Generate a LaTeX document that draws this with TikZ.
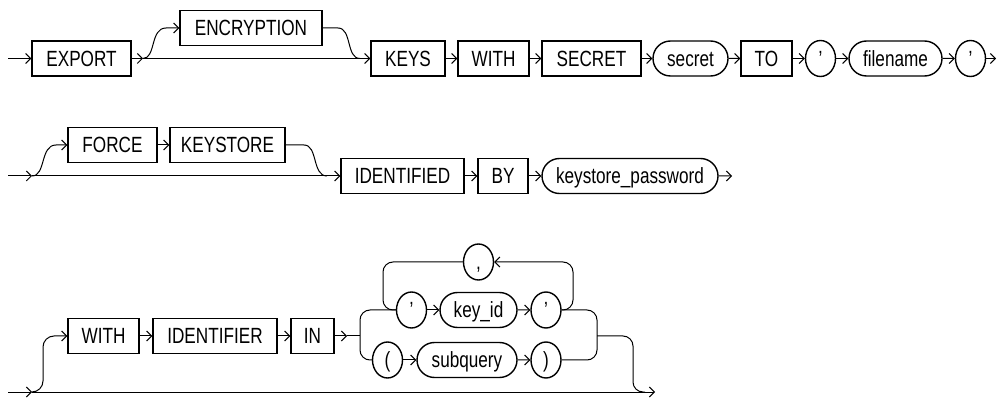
\documentclass[tikz,border=0pt]{standalone}
\usepackage{fontspec}
\setmainfont{Liberation Sans}[FakeStretch=0.78]
\usetikzlibrary{arrows.meta,shapes.misc,shapes.geometric}
\begin{document}
\begin{tikzpicture}[x=1pt,y=-1pt,
 font=\fontsize{22}{25}\selectfont,
 kw/.style={draw,line width=1.4pt,rectangle,minimum height=35pt,inner sep=0pt,text height=19.5pt,text depth=4pt},
 var/.style={kw,rounded rectangle},
 sym/.style={draw,line width=1.4pt,ellipse,minimum width=30pt,minimum height=36pt,inner sep=0pt,text height=19.5pt,text depth=4pt},
 ln/.style={line width=1pt},
 arr/.style={ln,-{Straight Barb[length=5pt,width=10pt]}},
]
\useasboundingbox (0,0) rectangle (997,398);
% row 1
\node[kw,minimum width=99pt] (export) at (81.5,58.5) {EXPORT};
\node[kw,minimum width=142pt] (encr) at (251,28) {ENCRYPTION};
\node[kw,minimum width=74pt] (keys) at (408,58.5) {KEYS};
\node[kw,minimum width=71pt] (with1) at (493.5,58.5) {WITH};
\node[kw,minimum width=99pt] (secretkw) at (591.5,58.5) {SECRET};
\node[var,minimum width=75pt] (secret) at (690.5,58.5) {secret};
\node[kw,minimum width=51pt] (to) at (766.5,58.5) {TO};
\node[sym] (qa) at (820.5,58.5) {’};
\node[var,minimum width=93pt] (fname) at (895.5,58.5) {filename};
\node[sym] (qb) at (970.5,58.5) {’};
\coordinate (s1) at (8,58.5);
\coordinate (j1) at (143,58.5);
\coordinate (e1) at (996,58.5);
\draw[arr] (s1) -- (export);
\draw[arr] (export) -- (j1);
\draw[arr] (j1) -- (keys);
\draw[arr] (j1) .. controls (156,58.5) and (150,28) .. (166,28) -- (encr);
\draw[ln] (encr.east) -- (338,28) .. controls (352,28) and (346,58.5) .. (360,58.5);
\draw[arr] (keys) -- (with1);
\draw[arr] (with1) -- (secretkw);
\draw[arr] (secretkw) -- (secret);
\draw[arr] (secret) -- (to);
\draw[arr] (to) -- (qa);
\draw[arr] (qa) -- (fname);
\draw[arr] (fname) -- (qb);
\draw[arr] (qb) -- (e1);
% row 2
\node[kw,minimum width=89pt] (force) at (112.5,145) {FORCE};
\node[kw,minimum width=115pt] (keystore) at (227.5,145) {KEYSTORE};
\node[kw,minimum width=123pt] (ident) at (402.5,176) {IDENTIFIED};
\node[kw,minimum width=50pt] (by) at (503,176) {BY};
\node[var,minimum width=176pt] (kpw) at (630,176) {keystore\_password};
\coordinate (s2) at (8,176);
\coordinate (j2) at (32,176);
\coordinate (e2) at (732,176);
\draw[arr] (s2) -- (j2);
\draw[arr] (j2) -- (ident);
\draw[arr] (j2) .. controls (46,176) and (40,145) .. (56,145) -- (force);
\draw[arr] (force) -- (keystore);
\draw[ln] (keystore.east) -- (304,145) .. controls (318,145) and (312,176) .. (327,176);
\draw[arr] (ident) -- (by);
\draw[arr] (by) -- (kpw);
\draw[arr] (kpw) -- (e2);
% row 3
\node[kw,minimum width=71pt] (with3) at (103.5,336) {WITH};
\node[kw,minimum width=124pt] (identifier) at (215,336) {IDENTIFIER};
\node[kw,minimum width=43pt] (in) at (312.5,336) {IN};
\node[sym] (q1) at (411.5,310) {’};
\node[var,minimum width=77pt] (keyid) at (478.5,310) {key\_id};
\node[sym] (q2) at (546,310) {’};
\node[sym] (comma) at (478.5,262) {,};
\node[sym] (lp) at (387.5,360) {(};
\node[var,minimum width=100pt] (subq) at (467,360) {subquery};
\node[sym] (rp) at (546,360) {)};
\coordinate (s3) at (8,392);
\coordinate (j3) at (32,392);
\coordinate (e3) at (655,392);
\coordinate (a3) at (347,336);
\coordinate (k3) at (360,336);
\coordinate (r3) at (597,336);
\draw[arr] (s3) -- (j3);
\draw[arr] (j3) -- (e3);
\draw[arr,rounded corners=11pt] (j3) -| (43,336) -- (with3);
\draw[arr] (with3) -- (identifier);
\draw[arr] (identifier) -- (in);
\draw[arr] (in) -- (a3);
\draw[ln] (a3) -- (k3);
\draw[ln,rounded corners=10pt] (q1.west) -| (k3) |- (lp.west);
\draw[arr] (q1) -- (keyid);
\draw[arr] (keyid) -- (q2);
\draw[arr] (lp) -- (subq);
\draw[arr] (subq) -- (rp);
\draw[ln,rounded corners=10pt] (q2.east) -| (597,360) -- (rp.east);
\draw[arr,rounded corners=10pt] (q2.east) -| (573,262) -- (comma.east);
\draw[ln,rounded corners=10pt] (comma.west) -| (383,310) -- (q1.west);
\draw[ln,rounded corners=10pt] (r3) -| (633,392) -- (645,392);
\end{tikzpicture}
\end{document}
